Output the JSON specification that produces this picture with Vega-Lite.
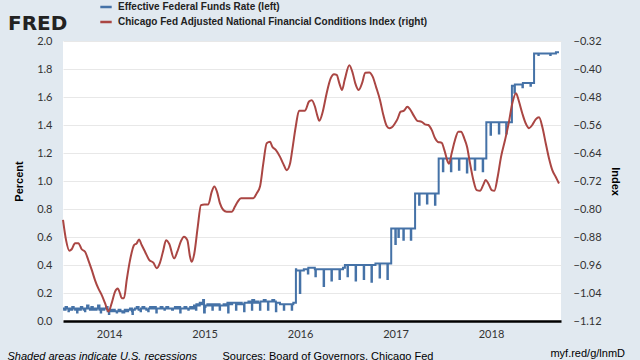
{
  "$schema": "https://vega.github.io/schema/vega-lite/v6.json",
  "autosize": {"type": "none"},
  "width": 498,
  "height": 280,
  "padding": {"left": 63, "top": 41, "right": 79, "bottom": 39},
  "background": "#e1e9f0",
  "config": {
    "view": {"fill": "#ffffff", "stroke": null},
    "font": "Liberation Sans",
    "axis": {"labelFont": "Lato", "labelFontSize": 11, "labelColor": "#333333", "titleFont": "Liberation Sans", "titleFontSize": 11, "titleColor": "#000000"}
  },
  "title": {"text": "myf.red/g/lnmD", "orient": "top", "anchor": "end", "frame": "group", "baseline": "top", "dx": 64, "dy": 363, "fontSize": 11, "fontWeight": "normal", "color": "#000000", "font": "Liberation Sans"},
  "datasets": {
    "ffr": [
      {"yr":2013.518,"v":0.09},{"yr":2013.53,"v":0.08},{"yr":2013.545,"v":0.10},{"yr":2013.56,"v":0.09},{"yr":2013.575,"v":0.07},{"yr":2013.58,"v":0.09},{"yr":2013.6,"v":0.08},{"yr":2013.615,"v":0.10},{"yr":2013.63,"v":0.09},{"yr":2013.645,"v":0.08},{"yr":2013.66,"v":0.09},{"yr":2013.665,"v":0.06},{"yr":2013.67,"v":0.09},{"yr":2013.69,"v":0.08},{"yr":2013.705,"v":0.10},{"yr":2013.72,"v":0.09},{"yr":2013.735,"v":0.08},{"yr":2013.748,"v":0.07},{"yr":2013.752,"v":0.09},{"yr":2013.77,"v":0.11},{"yr":2013.785,"v":0.09},{"yr":2013.8,"v":0.08},{"yr":2013.815,"v":0.10},{"yr":2013.83,"v":0.08},{"yr":2013.835,"v":0.09},{"yr":2013.85,"v":0.08},{"yr":2013.87,"v":0.09},{"yr":2013.885,"v":0.11},{"yr":2013.9,"v":0.08},{"yr":2013.913,"v":0.06},{"yr":2013.918,"v":0.09},{"yr":2013.935,"v":0.08},{"yr":2013.95,"v":0.09},{"yr":2013.97,"v":0.10},{"yr":2013.985,"v":0.07},{"yr":2013.998,"v":0.05},
      {"yr":2014.003,"v":0.08},{"yr":2014.02,"v":0.07},{"yr":2014.04,"v":0.08},{"yr":2014.06,"v":0.07},{"yr":2014.08,"v":0.06},{"yr":2014.085,"v":0.07},{"yr":2014.1,"v":0.08},{"yr":2014.12,"v":0.07},{"yr":2014.14,"v":0.06},{"yr":2014.16,"v":0.07},{"yr":2014.165,"v":0.08},{"yr":2014.18,"v":0.07},{"yr":2014.2,"v":0.08},{"yr":2014.22,"v":0.09},{"yr":2014.24,"v":0.07},{"yr":2014.245,"v":0.05},{"yr":2014.25,"v":0.08},{"yr":2014.27,"v":0.09},{"yr":2014.29,"v":0.10},{"yr":2014.31,"v":0.08},{"yr":2014.33,"v":0.07},{"yr":2014.335,"v":0.09},{"yr":2014.35,"v":0.10},{"yr":2014.37,"v":0.09},{"yr":2014.39,"v":0.08},{"yr":2014.41,"v":0.07},{"yr":2014.415,"v":0.09},{"yr":2014.43,"v":0.10},{"yr":2014.45,"v":0.09},{"yr":2014.47,"v":0.10},{"yr":2014.49,"v":0.09},{"yr":2014.495,"v":0.06},{"yr":2014.5,"v":0.09},{"yr":2014.52,"v":0.09},{"yr":2014.54,"v":0.10},{"yr":2014.56,"v":0.09},{"yr":2014.58,"v":0.08},{"yr":2014.585,"v":0.09},{"yr":2014.6,"v":0.10},{"yr":2014.62,"v":0.09},{"yr":2014.64,"v":0.09},{"yr":2014.66,"v":0.08},{"yr":2014.67,"v":0.09},{"yr":2014.69,"v":0.10},{"yr":2014.71,"v":0.09},{"yr":2014.73,"v":0.10},{"yr":2014.745,"v":0.06},{"yr":2014.75,"v":0.09},{"yr":2014.77,"v":0.09},{"yr":2014.79,"v":0.10},{"yr":2014.81,"v":0.09},{"yr":2014.83,"v":0.08},{"yr":2014.835,"v":0.09},{"yr":2014.85,"v":0.10},{"yr":2014.87,"v":0.09},{"yr":2014.89,"v":0.11},{"yr":2014.91,"v":0.08},{"yr":2014.915,"v":0.12},{"yr":2014.93,"v":0.11},{"yr":2014.95,"v":0.13},{"yr":2014.97,"v":0.12},{"yr":2014.985,"v":0.15},{"yr":2014.995,"v":0.06},
      {"yr":2015.003,"v":0.10},{"yr":2015.01,"v":0.11},{"yr":2015.03,"v":0.12},{"yr":2015.05,"v":0.11},{"yr":2015.07,"v":0.12},{"yr":2015.082,"v":0.08},{"yr":2015.087,"v":0.11},{"yr":2015.1,"v":0.12},{"yr":2015.12,"v":0.11},{"yr":2015.14,"v":0.12},{"yr":2015.158,"v":0.08},{"yr":2015.163,"v":0.11},{"yr":2015.18,"v":0.11},{"yr":2015.2,"v":0.12},{"yr":2015.22,"v":0.11},{"yr":2015.24,"v":0.13},{"yr":2015.247,"v":0.06},{"yr":2015.252,"v":0.13},{"yr":2015.27,"v":0.12},{"yr":2015.29,"v":0.13},{"yr":2015.31,"v":0.13},{"yr":2015.329,"v":0.08},{"yr":2015.334,"v":0.13},{"yr":2015.35,"v":0.12},{"yr":2015.37,"v":0.13},{"yr":2015.39,"v":0.12},{"yr":2015.414,"v":0.07},{"yr":2015.419,"v":0.13},{"yr":2015.44,"v":0.13},{"yr":2015.46,"v":0.14},{"yr":2015.48,"v":0.13},{"yr":2015.496,"v":0.08},{"yr":2015.5,"v":0.15},{"yr":2015.52,"v":0.13},{"yr":2015.54,"v":0.14},{"yr":2015.56,"v":0.13},{"yr":2015.58,"v":0.08},{"yr":2015.585,"v":0.14},{"yr":2015.6,"v":0.14},{"yr":2015.62,"v":0.15},{"yr":2015.64,"v":0.14},{"yr":2015.664,"v":0.08},{"yr":2015.669,"v":0.14},{"yr":2015.69,"v":0.14},{"yr":2015.71,"v":0.15},{"yr":2015.73,"v":0.14},{"yr":2015.747,"v":0.07},{"yr":2015.752,"v":0.13},{"yr":2015.77,"v":0.13},{"yr":2015.79,"v":0.12},{"yr":2015.81,"v":0.12},{"yr":2015.83,"v":0.08},{"yr":2015.835,"v":0.12},{"yr":2015.85,"v":0.12},{"yr":2015.87,"v":0.12},{"yr":2015.89,"v":0.12},{"yr":2015.913,"v":0.08},{"yr":2015.918,"v":0.12},{"yr":2015.93,"v":0.13},{"yr":2015.95,"v":0.13},{"yr":2015.957,"v":0.37},{"yr":2015.96,"v":0.36},{"yr":2015.975,"v":0.36},{"yr":2015.998,"v":0.20},
      {"yr":2016.003,"v":0.36},{"yr":2016.04,"v":0.37},{"yr":2016.075,"v":0.37},{"yr":2016.082,"v":0.34},{"yr":2016.087,"v":0.38},{"yr":2016.12,"v":0.38},{"yr":2016.155,"v":0.37},{"yr":2016.161,"v":0.32},{"yr":2016.166,"v":0.37},{"yr":2016.2,"v":0.37},{"yr":2016.24,"v":0.37},{"yr":2016.247,"v":0.25},{"yr":2016.252,"v":0.37},{"yr":2016.29,"v":0.37},{"yr":2016.325,"v":0.37},{"yr":2016.329,"v":0.29},{"yr":2016.334,"v":0.37},{"yr":2016.37,"v":0.37},{"yr":2016.41,"v":0.37},{"yr":2016.413,"v":0.30},{"yr":2016.418,"v":0.37},{"yr":2016.45,"v":0.38},{"yr":2016.47,"v":0.40},{"yr":2016.49,"v":0.40},{"yr":2016.497,"v":0.32},{"yr":2016.502,"v":0.40},{"yr":2016.54,"v":0.40},{"yr":2016.575,"v":0.40},{"yr":2016.582,"v":0.29},{"yr":2016.587,"v":0.40},{"yr":2016.63,"v":0.40},{"yr":2016.662,"v":0.40},{"yr":2016.667,"v":0.30},{"yr":2016.672,"v":0.40},{"yr":2016.71,"v":0.40},{"yr":2016.743,"v":0.40},{"yr":2016.748,"v":0.28},{"yr":2016.753,"v":0.40},{"yr":2016.79,"v":0.41},{"yr":2016.828,"v":0.41},{"yr":2016.833,"v":0.31},{"yr":2016.838,"v":0.41},{"yr":2016.87,"v":0.41},{"yr":2016.91,"v":0.41},{"yr":2016.915,"v":0.30},{"yr":2016.92,"v":0.41},{"yr":2016.952,"v":0.41},{"yr":2016.955,"v":0.66},{"yr":2016.98,"v":0.66},{"yr":2016.998,"v":0.55},
      {"yr":2017.003,"v":0.66},{"yr":2017.03,"v":0.60},{"yr":2017.035,"v":0.66},{"yr":2017.082,"v":0.58},{"yr":2017.087,"v":0.66},{"yr":2017.16,"v":0.58},{"yr":2017.165,"v":0.66},{"yr":2017.205,"v":0.91},{"yr":2017.247,"v":0.83},{"yr":2017.252,"v":0.91},{"yr":2017.329,"v":0.84},{"yr":2017.334,"v":0.91},{"yr":2017.413,"v":0.83},{"yr":2017.418,"v":0.91},{"yr":2017.452,"v":1.16},{"yr":2017.496,"v":1.07},{"yr":2017.501,"v":1.16},{"yr":2017.58,"v":1.07},{"yr":2017.585,"v":1.16},{"yr":2017.664,"v":1.08},{"yr":2017.669,"v":1.16},{"yr":2017.747,"v":1.06},{"yr":2017.752,"v":1.16},{"yr":2017.83,"v":1.08},{"yr":2017.835,"v":1.16},{"yr":2017.913,"v":1.07},{"yr":2017.918,"v":1.16},{"yr":2017.951,"v":1.42},{"yr":2017.995,"v":1.33},
      {"yr":2018.0,"v":1.42},{"yr":2018.082,"v":1.34},{"yr":2018.087,"v":1.42},{"yr":2018.159,"v":1.34},{"yr":2018.164,"v":1.42},{"yr":2018.219,"v":1.68},{"yr":2018.245,"v":1.63},{"yr":2018.25,"v":1.69},{"yr":2018.329,"v":1.67},{"yr":2018.334,"v":1.70},{"yr":2018.413,"v":1.68},{"yr":2018.418,"v":1.70},{"yr":2018.451,"v":1.91},{"yr":2018.496,"v":1.90},{"yr":2018.5,"v":1.91},{"yr":2018.58,"v":1.91},{"yr":2018.62,"v":1.90},{"yr":2018.625,"v":1.91},{"yr":2018.68,"v":1.92},{"yr":2018.712,"v":1.92}
    ],
    "nfci": [
      {"yr":2013.518,"v":-0.831},{"yr":2013.55,"v":-0.889},{"yr":2013.584,"v":-0.919},{"yr":2013.609,"v":-0.915},{"yr":2013.644,"v":-0.898},{"yr":2013.679,"v":-0.898},{"yr":2013.714,"v":-0.915},{"yr":2013.749,"v":-0.922},{"yr":2013.783,"v":-0.946},{"yr":2013.819,"v":-0.974},{"yr":2013.853,"v":-1.003},{"yr":2013.888,"v":-1.027},{"yr":2013.924,"v":-1.046},{"yr":2013.958,"v":-1.069},{"yr":2013.993,"v":-1.093},
      {"yr":2014.028,"v":-1.069},{"yr":2014.063,"v":-1.036},{"yr":2014.091,"v":-1.027},{"yr":2014.115,"v":-1.041},{"yr":2014.133,"v":-1.055},{"yr":2014.157,"v":-1.055},{"yr":2014.185,"v":-1.003},{"yr":2014.22,"v":-0.946},{"yr":2014.262,"v":-0.903},{"yr":2014.29,"v":-0.898},{"yr":2014.314,"v":-0.887},{"yr":2014.342,"v":-0.903},{"yr":2014.377,"v":-0.922},{"yr":2014.422,"v":-0.946},{"yr":2014.464,"v":-0.953},{"yr":2014.499,"v":-0.969},{"yr":2014.534,"v":-0.953},{"yr":2014.569,"v":-0.917},{"yr":2014.597,"v":-0.889},{"yr":2014.631,"v":-0.9},{"yr":2014.681,"v":-0.941},{"yr":2014.715,"v":-0.922},{"yr":2014.751,"v":-0.893},{"yr":2014.785,"v":-0.879},{"yr":2014.82,"v":-0.889},{"yr":2014.848,"v":-0.936},{"yr":2014.866,"v":-0.951},{"yr":2014.893,"v":-0.927},{"yr":2014.929,"v":-0.851},{"yr":2014.963,"v":-0.789},{"yr":2014.998,"v":-0.787},
      {"yr":2015.04,"v":-0.787},{"yr":2015.075,"v":-0.751},{"yr":2015.103,"v":-0.736},{"yr":2015.131,"v":-0.751},{"yr":2015.162,"v":-0.784},{"yr":2015.197,"v":-0.803},{"yr":2015.232,"v":-0.808},{"yr":2015.285,"v":-0.808},{"yr":2015.319,"v":-0.793},{"yr":2015.348,"v":-0.779},{"yr":2015.382,"v":-0.769},{"yr":2015.442,"v":-0.769},{"yr":2015.511,"v":-0.769},{"yr":2015.547,"v":-0.755},{"yr":2015.581,"v":-0.736},{"yr":2015.616,"v":-0.669},{"yr":2015.651,"v":-0.612},{"yr":2015.686,"v":-0.608},{"yr":2015.71,"v":-0.622},{"yr":2015.746,"v":-0.631},{"yr":2015.791,"v":-0.651},{"yr":2015.825,"v":-0.671},{"yr":2015.861,"v":-0.689},{"yr":2015.895,"v":-0.671},{"yr":2015.919,"v":-0.631},{"yr":2015.955,"v":-0.565},{"yr":2015.99,"v":-0.519},
      {"yr":2016.024,"v":-0.519},{"yr":2016.052,"v":-0.519},{"yr":2016.094,"v":-0.493},{"yr":2016.123,"v":-0.489},{"yr":2016.157,"v":-0.508},{"yr":2016.18,"v":-0.532},{"yr":2016.202,"v":-0.548},{"yr":2016.238,"v":-0.522},{"yr":2016.279,"v":-0.469},{"yr":2016.321,"v":-0.427},{"yr":2016.356,"v":-0.415},{"yr":2016.384,"v":-0.417},{"yr":2016.412,"v":-0.441},{"yr":2016.44,"v":-0.46},{"yr":2016.468,"v":-0.431},{"yr":2016.516,"v":-0.389},{"yr":2016.552,"v":-0.412},{"yr":2016.579,"v":-0.441},{"yr":2016.615,"v":-0.46},{"yr":2016.649,"v":-0.441},{"yr":2016.684,"v":-0.411},{"yr":2016.726,"v":-0.41},{"yr":2016.761,"v":-0.422},{"yr":2016.796,"v":-0.451},{"yr":2016.838,"v":-0.489},{"yr":2016.872,"v":-0.531},{"yr":2016.908,"v":-0.563},{"yr":2016.935,"v":-0.569},{"yr":2016.96,"v":-0.567},{"yr":2016.995,"v":-0.555},
      {"yr":2017.019,"v":-0.544},{"yr":2017.054,"v":-0.522},{"yr":2017.089,"v":-0.519},{"yr":2017.124,"v":-0.508},{"yr":2017.152,"v":-0.515},{"yr":2017.186,"v":-0.531},{"yr":2017.228,"v":-0.548},{"yr":2017.274,"v":-0.551},{"yr":2017.309,"v":-0.558},{"yr":2017.343,"v":-0.56},{"yr":2017.379,"v":-0.574},{"yr":2017.414,"v":-0.598},{"yr":2017.442,"v":-0.608},{"yr":2017.484,"v":-0.611},{"yr":2017.511,"v":-0.631},{"yr":2017.547,"v":-0.665},{"yr":2017.56,"v":-0.671},{"yr":2017.588,"v":-0.641},{"yr":2017.623,"v":-0.603},{"yr":2017.658,"v":-0.579},{"yr":2017.686,"v":-0.579},{"yr":2017.72,"v":-0.598},{"yr":2017.749,"v":-0.622},{"yr":2017.78,"v":-0.669},{"yr":2017.815,"v":-0.717},{"yr":2017.85,"v":-0.746},{"yr":2017.885,"v":-0.748},{"yr":2017.919,"v":-0.731},{"yr":2017.944,"v":-0.717},{"yr":2017.972,"v":-0.727},
      {"yr":2018.007,"v":-0.746},{"yr":2018.035,"v":-0.748},{"yr":2018.07,"v":-0.708},{"yr":2018.105,"v":-0.651},{"yr":2018.147,"v":-0.603},{"yr":2018.188,"v":-0.551},{"yr":2018.223,"v":-0.498},{"yr":2018.262,"v":-0.469},{"yr":2018.293,"v":-0.493},{"yr":2018.328,"v":-0.527},{"yr":2018.363,"v":-0.555},{"yr":2018.398,"v":-0.569},{"yr":2018.432,"v":-0.56},{"yr":2018.468,"v":-0.544},{"yr":2018.503,"v":-0.538},{"yr":2018.537,"v":-0.565},{"yr":2018.573,"v":-0.612},{"yr":2018.607,"v":-0.655},{"yr":2018.642,"v":-0.689},{"yr":2018.677,"v":-0.708},{"yr":2018.712,"v":-0.727}
    ]
  },
  "layer": [
    {
      "data": {"name": "ffr"},
      "mark": {"type": "line", "interpolate": "step-after", "strokeWidth": 2},
      "encoding": {
        "x": {"field": "yr", "type": "quantitative",
          "scale": {"domain": [2013.518, 2018.733], "nice": false, "zero": false},
          "axis": {"orient": "bottom", "values": [2014, 2015, 2016, 2017, 2018], "format": "d", "grid": false,
            "domain": true, "domainColor": "#000000", "domainWidth": 2.5, "ticks": false, "labelPadding": 7,
            "title": "Shaded areas indicate U.S. recessions", "titleX": -56, "titleY": 29, "titleAlign": "left", "titleAnchor": null,
            "titleBaseline": "top", "titleFontStyle": "italic", "titleFontWeight": "normal", "titleAngle": 0}},
        "y": {"field": "v", "type": "quantitative",
          "scale": {"domain": [0, 2], "nice": false, "zero": false},
          "axis": {"orient": "left", "values": [0, 0.2, 0.4, 0.6, 0.8, 1.0, 1.2, 1.4, 1.6, 1.8, 2.0], "format": ".1f",
            "grid": true, "gridColor": "#e8e8e8", "gridWidth": 1, "domain": false, "ticks": false, "labelPadding": 11,
            "title": "Percent", "titleFontWeight": "bold", "titlePadding": 12}},
        "color": {"datum": "Effective Federal Funds Rate (left)", "type": "nominal",
          "scale": {"domain": ["Effective Federal Funds Rate (left)", "Chicago Fed Adjusted National Financial Conditions Index (right)"], "range": ["#4572a7", "#aa4643"]},
          "legend": {"orient": "none", "legendX": -55, "legendY": -41, "title": "FRED", "titleOrient": "left", "titleFontSize": 20,
            "titleFont": "DejaVu Sans", "titleFontWeight": "bold", "titleColor": "#222222", "titleBaseline": "top", "titlePadding": 31,
            "symbolType": "stroke", "symbolStrokeWidth": 2.5, "symbolSize": 130, "labelFontSize": 10, "labelFont": "Liberation Sans",
            "labelFontWeight": "bold", "labelColor": "#222222", "labelOffset": 5, "rowPadding": 3, "padding": 0, "labelLimit": 400}}
      }
    },
    {
      "data": {"name": "nfci"},
      "mark": {"type": "line", "interpolate": "monotone", "strokeWidth": 2},
      "encoding": {
        "x": {"field": "yr", "type": "quantitative",
          "axis": {"orient": "top", "labels": false, "ticks": false, "domain": false, "grid": false,
            "title": "Sources: Board of Governors, Chicago Fed", "titleX": 159, "titleY": 309, "titleAlign": "left", "titleAnchor": null,
            "titleBaseline": "top", "titleFontWeight": "normal", "titleAngle": 0}},
        "y": {"field": "v", "type": "quantitative",
          "scale": {"domain": [-1.12, -0.32], "nice": false, "zero": false},
          "axis": {"orient": "right", "values": [-1.12, -1.04, -0.96, -0.88, -0.8, -0.72, -0.64, -0.56, -0.48, -0.4, -0.32], "format": ".2f",
            "grid": false, "domain": false, "ticks": false, "labelPadding": 12,
            "title": "Index", "titleFontWeight": "bold", "titlePadding": 8}},
        "color": {"datum": "Chicago Fed Adjusted National Financial Conditions Index (right)", "type": "nominal"}
      }
    }
  ],
  "resolve": {"scale": {"y": "independent"}, "axis": {"x": "independent"}}
}
